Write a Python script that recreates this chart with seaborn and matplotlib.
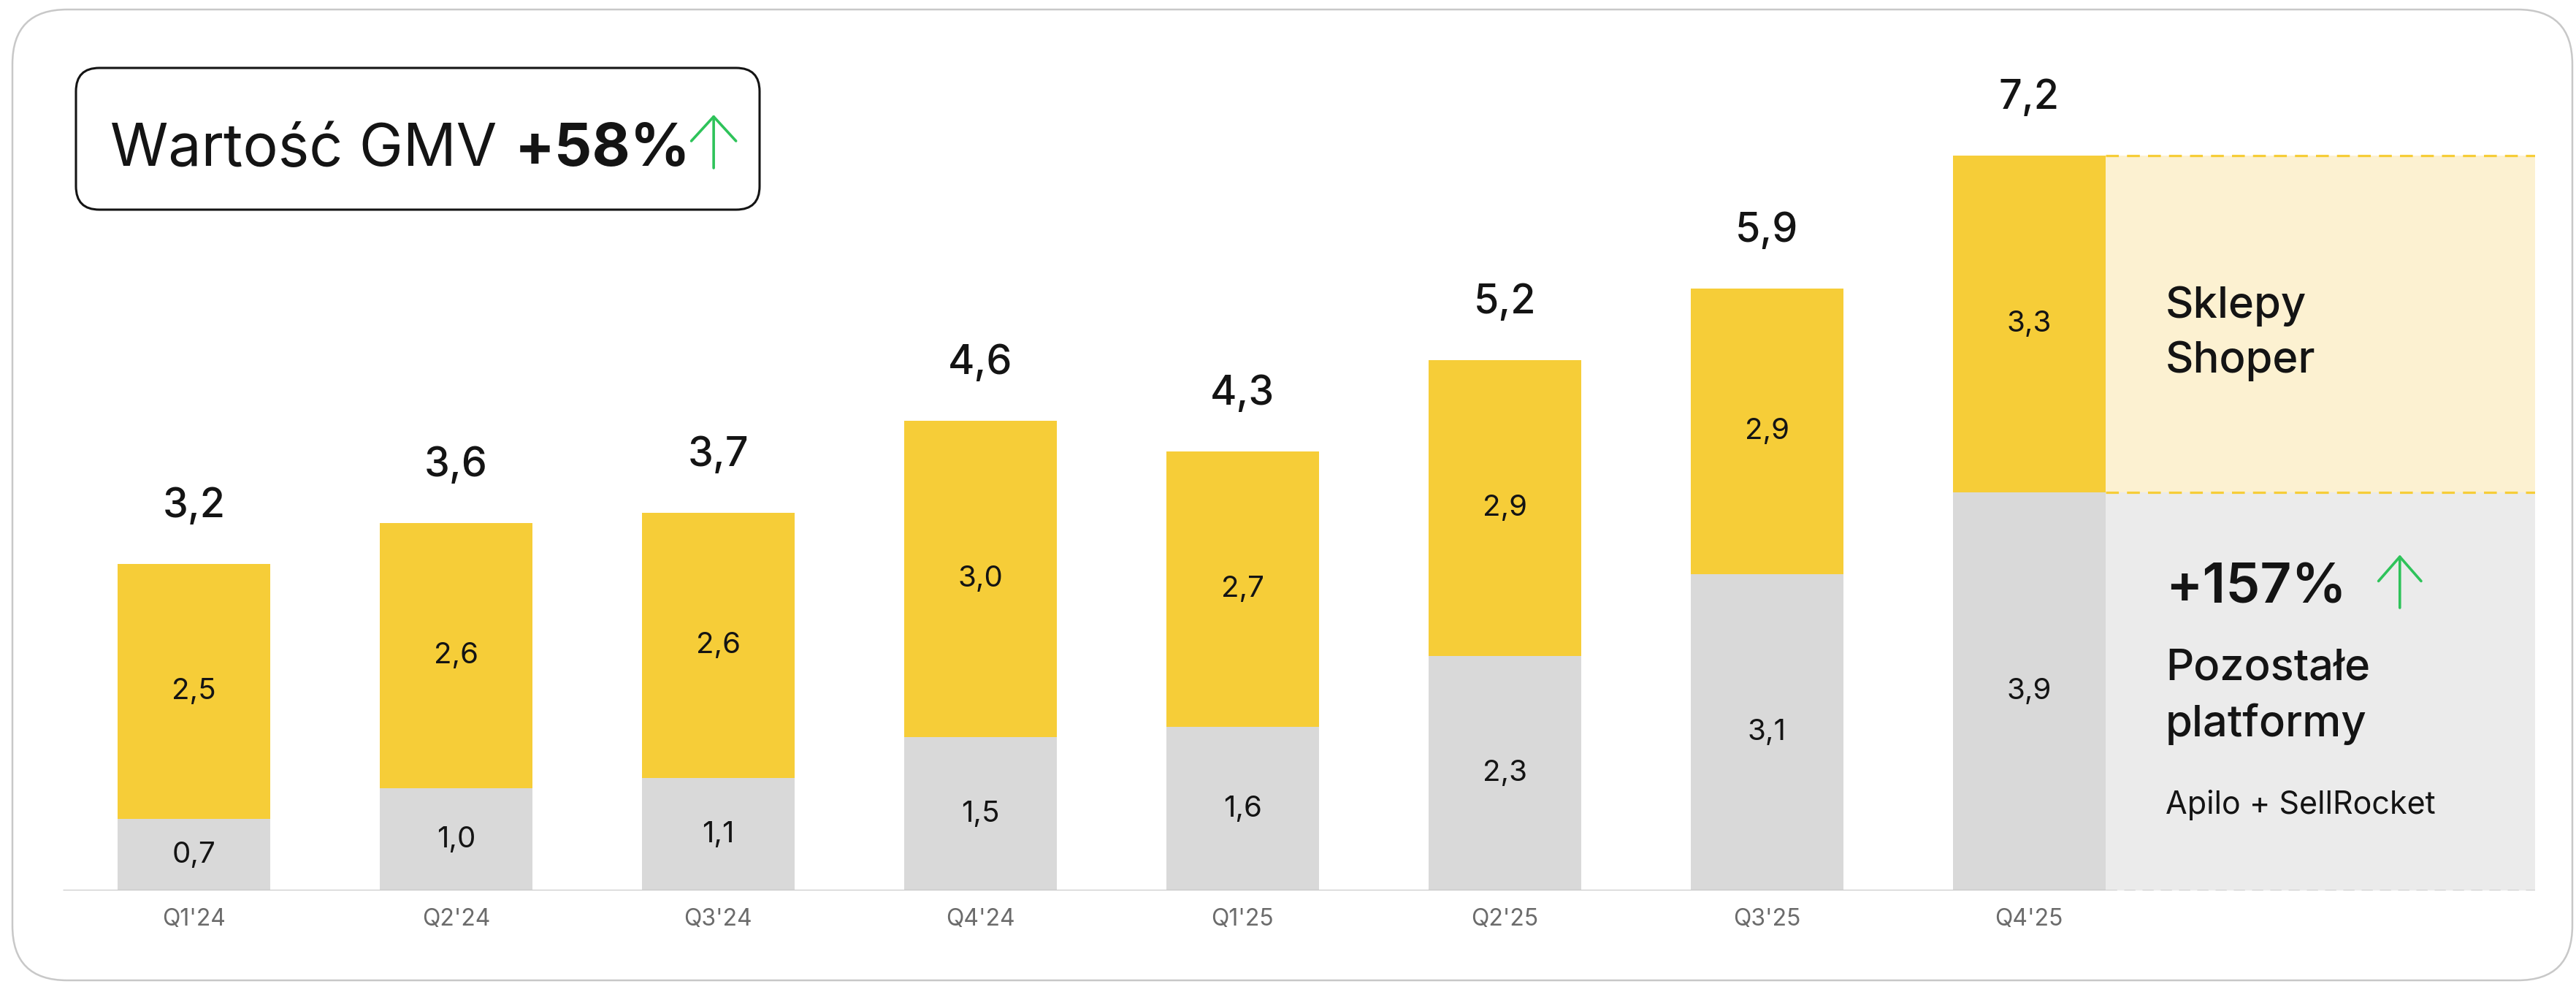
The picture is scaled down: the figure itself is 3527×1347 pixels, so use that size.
import matplotlib.pyplot as plt
import pandas as pd
import seaborn as sns
from matplotlib.patches import FancyBboxPatch

# dane (mld zł)
quarters = ["Q1'24", "Q2'24", "Q3'24", "Q4'24", "Q1'25", "Q2'25", "Q3'25", "Q4'25"]
totals = [3.2, 3.6, 3.7, 4.6, 4.3, 5.2, 5.9, 7.2]
shoper = [2.5, 2.6, 2.6, 3.0, 2.7, 2.9, 2.9, 3.3]
others = [0.7, 1.0, 1.1, 1.5, 1.6, 2.3, 3.1, 3.9]

title_text = "Wartość GMV"
title_growth = "+58%"
shoper_label = "Sklepy\nShoper"
others_growth = "+157%"
others_label = "Pozostałe\nplatformy"
others_note = "Apilo + SellRocket"

YELLOW = '#F6CD38'
GRAY = '#D9D9D9'
CREAM = '#FCF1D1'
LIGHTGRAY = '#EBEBEB'
LINE = '#C6C6C6'
GREEN = '#2EC35A'
INK = '#141414'

sns.set_style('white')
plt.rcParams['font.family'] = ['Inter', 'DejaVu Sans']


def fmt(v):
    return f"{v:.1f}".replace('.', ',')


df = pd.DataFrame({'quarter': quarters, 'total': totals, 'shoper': shoper, 'others': others})

W, H, DPI = 3527, 1347, 100
fig = plt.figure(figsize=(W / DPI, H / DPI), dpi=DPI)

# axes zaczyna sie na linii bazowej wykresu
ax = fig.add_axes([86 / W, 128 / H, (3471 - 86) / W, (H - 128) / H])
BAR_W = 0.583

sns.barplot(data=df, x='quarter', y='total', color=YELLOW, saturation=1,
            width=BAR_W, linewidth=0, ax=ax)
sns.barplot(data=df, x='quarter', y='others', color=GRAY, saturation=1,
            width=BAR_W, linewidth=0, ax=ax)

x_right = 8.93
ax.set_xlim(-0.5, x_right)
ax.set_ylim(0, (H - 128) / 139.7)
ax.set_xlabel('')
ax.set_ylabel('')
ax.set_yticks([])
ax.tick_params(axis='x', length=0, pad=17, labelsize=23, labelcolor='#6B6B6B')
for s in ax.spines.values():
    s.set_visible(False)

# etykiety
for i, row in df.iterrows():
    ax.text(i, row['others'] / 2, fmt(row['others']), ha='center', va='center',
            fontsize=29, color=INK)
    ax.text(i, (row['others'] + row['total']) / 2, fmt(row['shoper']), ha='center',
            va='center', fontsize=29, color=INK)
    ax.annotate(fmt(row['total']), (i, row['total']), xytext=(0, 46),
                textcoords='offset points', ha='center', va='baseline',
                fontsize=40, fontweight='medium', color=INK)

# panel po prawej
last = len(quarters) - 1
x0 = last + BAR_W / 2
ax.fill_between([x0, x_right], others[last], totals[last], color=CREAM, lw=0, zorder=0)
ax.fill_between([x0, x_right], 0, others[last], color=LIGHTGRAY, lw=0, zorder=0)
ax.hlines([others[last], totals[last]], x0, x_right, colors=YELLOW, lw=2.3,
          linestyles=(0, (5.5, 3.5)), zorder=3)
ax.hlines(0, x0, x_right, colors=LINE, lw=2, linestyles=(0, (5.5, 3.5)), zorder=3)
ax.hlines(0, -0.5, x0, colors=LINE, lw=2.3, zorder=3)

tx = 7.52
# va='baseline' przy wielu liniach -> linia bazowa ostatniej linii
ax.text(tx, 5.075, shoper_label, ha='left', va='baseline', fontsize=43,
        fontweight='medium', color=INK, linespacing=1.45)
ax.text(tx, 2.817, others_growth, ha='left', va='baseline', fontsize=54,
        fontweight='semibold', color=INK)
ax.annotate('', xy=(8.414, 3.29), xytext=(8.414, 2.77),
            arrowprops=dict(arrowstyle='->,head_length=2.4,head_width=2.1',
                            color=GREEN, lw=2.6, shrinkA=0, shrinkB=0,
                            mutation_scale=10, capstyle='round', joinstyle='round'))
ax.text(tx, 1.51, others_label, ha='left', va='baseline', fontsize=43,
        fontweight='medium', color=INK, linespacing=1.45)
ax.text(tx, 0.752, others_note, ha='left', va='baseline', fontsize=31, color=INK)

# ramka calosci
frame = FancyBboxPatch((17 / DPI, 5 / DPI), (3522 - 17) / DPI, (H - 13 - 5) / DPI,
                       boxstyle='round,pad=0,rounding_size=0.75',
                       transform=fig.dpi_scale_trans, fill=False,
                       edgecolor='#C8C8C8', lw=1.8)
fig.patches.append(frame)

# tytul w ramce
tbox = FancyBboxPatch((104 / DPI, (H - 287) / DPI), (1040 - 104) / DPI, (287 - 93) / DPI,
                      boxstyle='round,pad=0,rounding_size=0.32',
                      transform=fig.dpi_scale_trans, facecolor='white',
                      edgecolor=INK, lw=2.2)
fig.patches.append(tbox)

t1 = fig.text(151 / W, (H - 227) / H, title_text, ha='left', va='baseline',
              fontsize=58, color=INK)
fig.canvas.draw()
r = fig.canvas.get_renderer()
e1 = t1.get_window_extent(r)
t2 = fig.text((e1.x1 + 24) / W, (H - 227) / H, title_growth, ha='left', va='baseline',
              fontsize=58, fontweight='bold', color=INK)
e2 = t2.get_window_extent(r)
ax_x = (e2.x1 + 32) / W
fig.add_artist(plt.Annotation('', xy=(ax_x, (H - 157) / H), xytext=(ax_x, (H - 230) / H),
                              xycoords='figure fraction', textcoords='figure fraction',
                              arrowprops=dict(arrowstyle='->,head_length=2.4,head_width=2.2',
                                              color=GREEN, lw=2.6, shrinkA=0, shrinkB=0,
                                              mutation_scale=10, capstyle='round',
                                              joinstyle='round')))

fig.savefig('out.png', dpi=DPI, facecolor='white')
